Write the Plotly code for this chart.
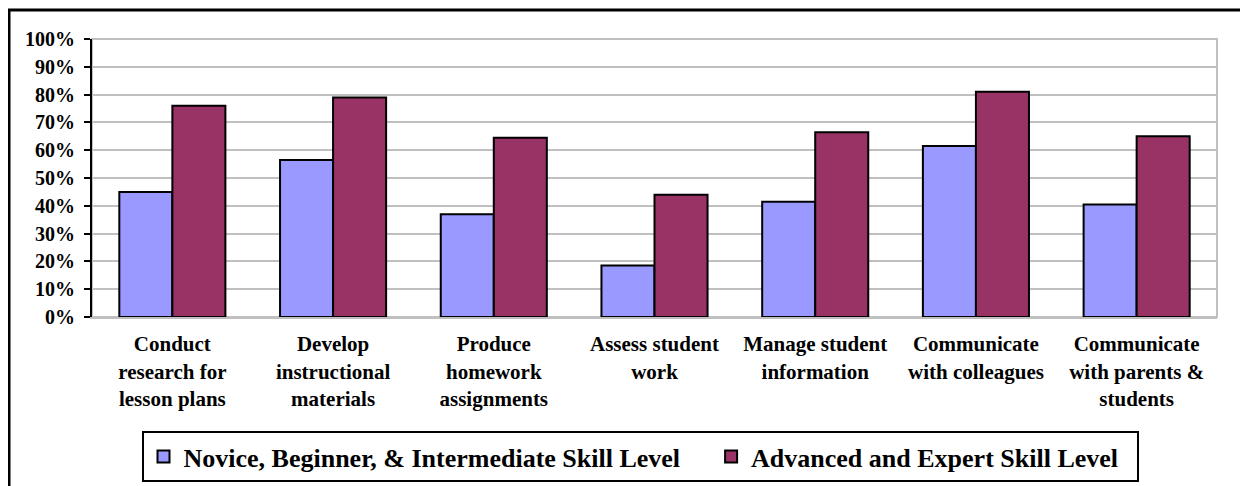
import plotly.graph_objects as go

categories = [
    "Conduct<br>research for<br>lesson plans",
    "Develop<br>instructional<br>materials",
    "Produce<br>homework<br>assignments",
    "Assess student<br>work",
    "Manage student<br>information",
    "Communicate<br>with colleagues",
    "Communicate<br>with parents &<br>students",
]
novice = [45, 56.5, 37, 18.5, 41.5, 61.5, 40.5]
advanced = [76, 79, 64.5, 44, 66.5, 81, 65]
series_names = ["Novice, Beginner, & Intermediate Skill Level", "Advanced and Expert Skill Level"]
y_ticks = list(range(0, 101, 10))

FONT = "Liberation Serif"

# page body has an 8px margin; the figure is sized to fit the 1248x486 window
W, H = 1240, 478
L, T = 84, 31
PW, PH = 1125, 278

fig = go.Figure()
fig.add_trace(go.Bar(x=categories, y=novice, name=series_names[0] + "\u00a0" * 4,
                     marker=dict(color="#9999FF", line=dict(color="black", width=2))))
fig.add_trace(go.Bar(x=categories, y=advanced, name=series_names[1] + "\u00a0" * 2,
                     marker=dict(color="#993366", line=dict(color="black", width=2))))

fig.update_layout(
    width=W, height=H,
    margin=dict(l=L, r=W - L - PW, t=T, b=H - T - PH, pad=0, autoexpand=False),
    paper_bgcolor="white", plot_bgcolor="white",
    barmode="group", bargap=0.34, bargroupgap=0,
    font=dict(family=FONT, size=17, color="black"),
    showlegend=True,
    legend=dict(orientation="h", x=0.044, y=-0.41, xanchor="left", yanchor="top",
                bordercolor="black", borderwidth=2,
                font=dict(family=FONT, size=26, color="black", weight="bold"),
                traceorder="normal"),
)
fig.update_yaxes(range=[0, 100], tickvals=y_ticks, ticktext=[f"{v}%" for v in y_ticks],
                 showgrid=True, gridcolor="#C0C0C0", gridwidth=1.5,
                 showline=True, linecolor="black", linewidth=2,
                 ticks="outside", ticklen=6, tickwidth=2, tickcolor="black",
                 ticklabelstandoff=5, automargin=False,
                 tickfont=dict(family=FONT, size=20, weight="bold"), zeroline=False)
fig.update_xaxes(showline=True, linecolor="#C0C0C0", linewidth=2, ticks="",
                 ticklabelstandoff=7, automargin=False,
                 tickfont=dict(family=FONT, size=21, weight="bold"))

# plot area border (gray) and outer chart frame (black)
fig.add_shape(type="rect", xref="paper", yref="paper", x0=0, x1=1, y0=0, y1=1,
              line=dict(color="#C0C0C0", width=2), layer="below")
fig.add_shape(type="rect", xref="paper", yref="paper",
              x0=(1.0 - L) / PW, x1=1.2, y0=-0.8, y1=(PH + T - 2) / PH,
              line=dict(color="black", width=3))

fig.write_html("out.html")
